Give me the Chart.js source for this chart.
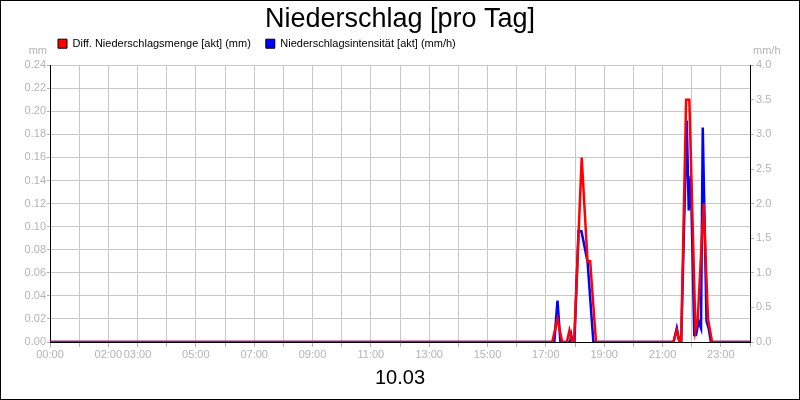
<!DOCTYPE html>
<html>
<head>
<meta charset="utf-8">
<script src="https://cdn.jsdelivr.net/npm/chart.js@4/dist/chart.umd.min.js"></script>
<style>
  html, body { margin: 0; padding: 0; background: #fff; }
  #wrap { width: 800px; height: 400px; position: relative; }
</style>
</head>
<body>
<div id="wrap"><canvas id="c" width="800" height="400"></canvas></div>
<script>
// ---- data (hours of day, values) ----
const chartTitle = 'Niederschlag [pro Tag]';
const dateLabel = '10.03';
const seriesNames = ['Diff. Niederschlagsmenge [akt] (mm)', 'Niederschlagsintensität [akt] (mm/h)'];
const leftUnit = 'mm';
const rightUnit = 'mm/h';
const xLabelHours = [0, 2, 3, 5, 7, 9, 11, 13, 15, 17, 19, 21, 23];

const redTimes  = [0, 17.22, 17.40, 17.56, 17.72, 17.81, 17.91, 17.97, 18.23, 18.43, 18.52, 18.72,
                   21.37, 21.49, 21.58, 21.64, 21.81, 21.92, 22.13, 22.21, 22.41, 22.56, 22.70, 24];
const redValues = [0, 0, 0.02, 0, 0, 0.01, 0, 0, 0.16, 0.07, 0.07, 0,
                   0, 0.01, 0, 0, 0.21, 0.21, 0.01, 0.02, 0.12, 0.02, 0, 0];

const blueTimes  = [0, 17.29, 17.40, 17.50, 17.83, 17.87, 17.92, 17.98, 18.12, 18.22, 18.27, 18.43, 18.63,
                    21.38, 21.49, 21.58, 21.64, 21.83, 21.90, 21.97, 22.09, 22.15, 22.24, 22.32, 22.38, 22.51, 22.58, 22.66, 24];
const blueValues = [0, 0, 0.6, 0, 0, 0.1, 0, 0, 1.6, 1.6, 1.5, 1.16, 0,
                    0, 0.2, 0, 0, 3.2, 1.9, 2.4, 0.1, 0.1, 0.3, 0.2, 3.1, 0.3, 0.2, 0, 0];

const toPoints = (t, v) => t.map((x, i) => ({ x: x, y: v[i] }));

const FONT = '"Liberation Sans", Arial, sans-serif';
const GREY = '#b4b4b4';
const GRID = '#c8c8c8';
const LEGEND_PAD = 15;

const extras = {
  id: 'extras',
  afterLayout(chart) {
    // nudge the legend row: a bit left of the plot edge and a bit higher
    const lg = chart.legend;
    if (lg) { lg.left -= 7; lg.right -= 7; lg.top -= 6; lg.bottom -= 6; }
  },
  afterDraw(chart) {
    const { ctx, chartArea } = chart;
    ctx.save();
    ctx.fillStyle = GREY;
    ctx.font = '11px ' + FONT;
    ctx.textBaseline = 'middle';
    ctx.textAlign = 'right';
    ctx.fillText(leftUnit, chartArea.left - 3, chartArea.top - 14);
    ctx.textAlign = 'left';
    ctx.fillText(rightUnit, chartArea.right + 3, chartArea.top - 14);
    ctx.strokeStyle = '#000';
    ctx.lineWidth = 1;
    ctx.strokeRect(0.5, 0.5, chart.width - 1, chart.height - 1);
    ctx.restore();
  }
};

Chart.defaults.font.family = FONT;

new Chart(document.getElementById('c'), {
  type: 'line',
  data: {
    datasets: [
      {
        label: seriesNames[0],
        data: toPoints(redTimes, redValues),
        borderColor: '#ff0000',
        backgroundColor: '#ff0000',
        borderWidth: 2.5,
        pointRadius: 0,
        tension: 0,
        yAxisID: 'y'
      },
      {
        label: seriesNames[1],
        data: toPoints(blueTimes, blueValues),
        borderColor: '#0000ff',
        backgroundColor: '#0000ff',
        borderWidth: 2.5,
        pointRadius: 0,
        tension: 0,
        yAxisID: 'y1'
      }
    ]
  },
  options: {
    responsive: false,
    animation: false,
    layout: { padding: 0 },
    plugins: {
      title: {
        display: true,
        text: chartTitle,
        color: '#000',
        font: { size: 27, weight: 'normal', family: FONT },
        padding: { top: 3, bottom: -6.2 }
      },
      legend: {
        display: true,
        fullSize: false,
        align: 'start',
        labels: {
          boxWidth: 9,
          boxHeight: 9,
          padding: LEGEND_PAD,
          color: '#000',
          font: { size: 11, family: FONT },
          generateLabels(chart) {
            return Chart.defaults.plugins.legend.labels.generateLabels(chart).map(l => {
              l.strokeStyle = '#000';
              l.lineWidth = 1;
              return l;
            });
          }
        }
      },
      tooltip: { enabled: false }
    },
    scales: {
      x: {
        type: 'linear',
        min: 0,
        max: 24,
        afterFit(s) { s.height = 58; },
        ticks: {
          stepSize: 1,
          autoSkip: false,
          maxRotation: 0,
          color: GREY,
          padding: 1,
          font: { size: 11 },
          callback: (v) => xLabelHours.includes(v) ? String(v).padStart(2, '0') + ':00' : ''
        },
        grid: { color: GRID, tickLength: 5, tickColor: GREY },
        border: { color: '#000', width: 1 },
        title: {
          display: true,
          text: dateLabel,
          color: '#000',
          font: { size: 20 },
          padding: { top: 0, bottom: 10 }
        }
      },
      y: {
        position: 'left',
        min: 0,
        max: 0.24,
        afterFit(s) { s.width = 50; },
        ticks: {
          stepSize: 0.02,
          color: GREY,
          padding: 1,
          font: { size: 11 },
          callback: (v) => Number(v).toFixed(2)
        },
        grid: { color: GRID, tickLength: 3, tickColor: GREY },
        border: { color: '#000', width: 1 }
      },
      y1: {
        position: 'right',
        min: 0,
        max: 4,
        afterFit(s) { s.width = 50; },
        ticks: {
          stepSize: 0.5,
          color: GREY,
          padding: 2,
          font: { size: 11 },
          callback: (v) => Number(v).toFixed(1)
        },
        grid: { drawOnChartArea: false, tickLength: 4, tickColor: GREY },
        border: { color: '#000', width: 1 }
      }
    }
  },
  plugins: [extras]
});
</script>
</body>
</html>
